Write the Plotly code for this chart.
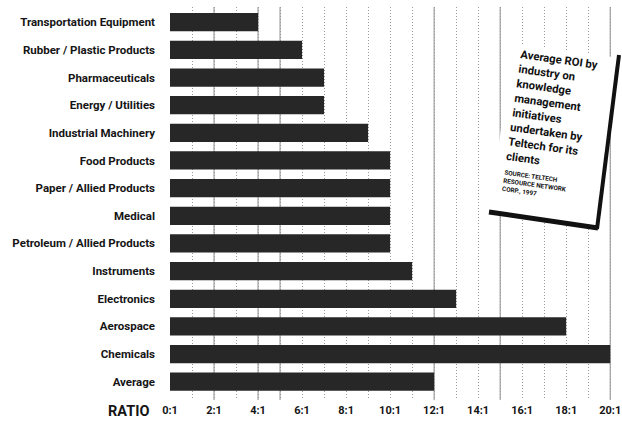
import plotly.graph_objects as go

# ROI ratio by industry (x:1), listed top to bottom
industries = [
    "Transportation Equipment",
    "Rubber / Plastic Products",
    "Pharmaceuticals",
    "Energy / Utilities",
    "Industrial Machinery",
    "Food Products",
    "Paper / Allied Products",
    "Medical",
    "Petroleum / Allied Products",
    "Instruments",
    "Electronics",
    "Aerospace",
    "Chemicals",
    "Average",
]
roi_ratio = [4, 6, 7, 7, 9, 10, 10, 10, 10, 11, 13, 18, 20, 12]

tick_values = [0, 2, 4, 6, 8, 10, 12, 14, 16, 18, 20]
tick_labels = ["0:1", "2:1", "4:1", "6:1", "8:1", "10:1", "12:1", "14:1", "16:1", "18:1", "20:1"]
solid_grid = [2, 4, 5, 12, 15, 20]

note_lines = [
    "Average ROI by", "industry on", "knowledge", "management",
    "initiatives", "undertaken by", "Teltech for its", "clients",
]
source_lines = ["SOURCE: TELTECH", "RESOURCE NETWORK", "CORP., 1997"]

W, H = 622, 423
ML, MR, MT, MB = 170, 3, 7, 23
PW, PH = W - ML - MR, H - MT - MB


def px(x, y):
    """Pixel position -> paper coordinates."""
    return (x - ML) / PW, 1 - (y - MT) / PH


FAMILY = "Roboto, Open Sans, sans-serif"
LABEL_FONT = dict(family=FAMILY, size=11.5, color="#151515", weight="bold")
TICK_FONT = dict(family=FAMILY, size=11, color="#151515", weight="bold")

fig = go.Figure(
    go.Bar(
        x=roi_ratio,
        y=industries,
        orientation="h",
        marker=dict(color="#272727", line=dict(width=0)),
        width=0.66,
    )
)

shapes = []
# solid accent gridlines on top of the dotted grid
for v in solid_grid:
    shapes.append(dict(type="line", xref="x", yref="paper", x0=v, x1=v, y0=0, y1=1,
                       line=dict(color="#8c8c8c", width=1), layer="below"))

# tilted note card
corners = [px(512, 43), px(619, 58), px(597, 228), px(490, 213)]
path = "M " + " L ".join(f"{cx},{cy}" for cx, cy in corners) + " Z"
shapes.append(dict(type="path", xref="paper", yref="paper", path=path,
                   fillcolor="white", line=dict(width=0), layer="above"))
(a, b), (c, d) = px(619, 55), px(597, 229)
shapes.append(dict(type="line", xref="paper", yref="paper", x0=a, y0=b, x1=c, y1=d,
                   line=dict(color="#111", width=4), layer="above"))
(a, b), (c, d) = px(489, 212), px(598, 228)
shapes.append(dict(type="line", xref="paper", yref="paper", x0=a, y0=b, x1=c, y1=d,
                   line=dict(color="#111", width=5), layer="above"))

annotations = []
nx, ny = px(552, 111)
annotations.append(dict(
    xref="paper", yref="paper", x=nx, y=ny, xanchor="center", yanchor="middle",
    text="<br>".join(note_lines), showarrow=False, align="left", textangle=8,
    font=dict(family=FAMILY, size=11.3, color="#111", weight="bold"),
))
sx, sy = px(535, 185)
annotations.append(dict(
    xref="paper", yref="paper", x=sx, y=sy, xanchor="center", yanchor="middle",
    text="<br>".join(source_lines), showarrow=False, align="left", textangle=8,
    font=dict(family=FAMILY, size=6.3, color="#111", weight="bold"),
))
rx, ry = px(128, 411)
annotations.append(dict(
    xref="paper", yref="paper", x=rx, y=ry, xanchor="center", yanchor="middle",
    text="RATIO", showarrow=False,
    font=dict(family=FAMILY, size=14.5, color="#151515", weight="bold"),
))

fig.update_layout(
    width=W, height=H,
    margin=dict(l=ML, r=MR, t=MT, b=MB, autoexpand=False),
    paper_bgcolor="white", plot_bgcolor="white",
    showlegend=False,
    bargap=0.34,
    shapes=shapes,
    annotations=annotations,
    xaxis=dict(
        range=[0, 20.4],
        tickmode="array", tickvals=tick_values, ticktext=tick_labels,
        showgrid=True, gridcolor="#9a9a9a", griddash="1px,2px", gridwidth=1,
        zeroline=False, showline=False, ticks="",
        tickfont=TICK_FONT, ticklabelstandoff=2,
        minor=dict(tickmode="linear", tick0=0, dtick=1, showgrid=True, gridcolor="#9a9a9a",
                   griddash="1px,2px", gridwidth=1),
    ),
    yaxis=dict(
        categoryorder="array", categoryarray=industries,
        range=[13.66, -0.55],
        showgrid=False, zeroline=False, showline=False, ticks="",
        tickfont=LABEL_FONT, ticklabelstandoff=14,
    ),
)

fig.write_html("out.html")
